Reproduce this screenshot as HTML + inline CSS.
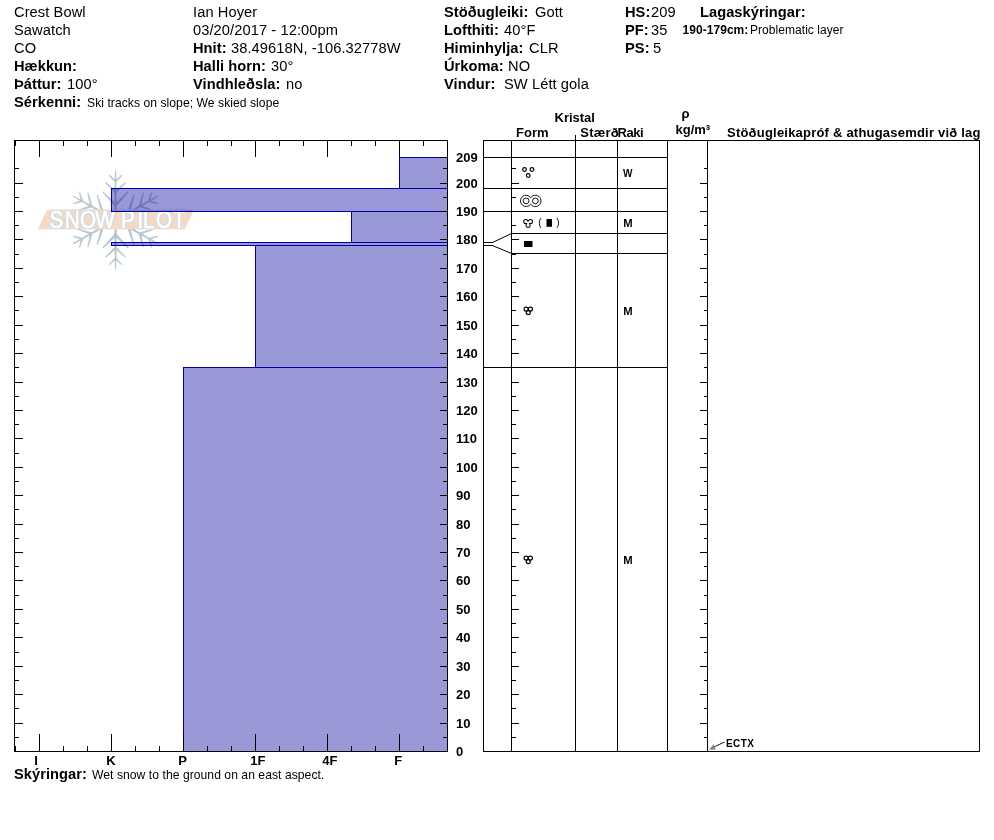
<!DOCTYPE html>
<html><head><meta charset="utf-8"><title>Snow Profile</title>
<style>
html,body{margin:0;padding:0;background:#fff;}
svg{display:block;font-family:"Liberation Sans",sans-serif;}
text{fill:#000;}
</style></head><body>
<svg width="994" height="840" viewBox="0 0 994 840">
<rect width="994" height="840" fill="#fff"/>
<text x="14" y="16.6" font-size="14.67" letter-spacing="0.08">Crest Bowl</text>
<text x="14" y="34.6" font-size="14.67" letter-spacing="0.08">Sawatch</text>
<text x="14" y="52.6" font-size="14.67" letter-spacing="0.08">CO</text>
<text x="14" y="70.6" font-size="14.67" font-weight="bold" letter-spacing="0.04">Hækkun:</text>
<text x="14" y="88.6" font-size="14.67" font-weight="bold" letter-spacing="0.04">Þáttur:</text>
<text x="67" y="88.6" font-size="14.67" letter-spacing="0.08">100°</text>
<text x="14" y="106.6" font-size="14.67" font-weight="bold" letter-spacing="0.04">Sérkenni:</text>
<text x="87" y="106.6" font-size="12.13" letter-spacing="0.05">Ski tracks on slope; We skied slope</text>
<text x="193" y="16.6" font-size="14.67" letter-spacing="0.08">Ian Hoyer</text>
<text x="193" y="34.6" font-size="14.67" letter-spacing="0.08">03/20/2017 - 12:00pm</text>
<text x="193" y="52.6" font-size="14.67" font-weight="bold" letter-spacing="0.04">Hnit:</text>
<text x="231" y="52.6" font-size="14.67" letter-spacing="0.08">38.49618N, -106.32778W</text>
<text x="193" y="70.6" font-size="14.67" font-weight="bold" letter-spacing="0.04">Halli horn:</text>
<text x="271" y="70.6" font-size="14.67" letter-spacing="0.08">30°</text>
<text x="193" y="88.6" font-size="14.67" font-weight="bold" letter-spacing="0.04">Vindhleðsla:</text>
<text x="286" y="88.6" font-size="14.67" letter-spacing="0.08">no</text>
<text x="444" y="16.6" font-size="14.67" font-weight="bold" letter-spacing="0.04">Stöðugleiki:</text>
<text x="535" y="16.6" font-size="14.67" letter-spacing="0.08">Gott</text>
<text x="444" y="34.6" font-size="14.67" font-weight="bold" letter-spacing="0.04">Lofthiti:</text>
<text x="504" y="34.6" font-size="14.67" letter-spacing="0.08">40°F</text>
<text x="444" y="52.6" font-size="14.67" font-weight="bold" letter-spacing="0.04">Himinhylja:</text>
<text x="529" y="52.6" font-size="14.67" letter-spacing="0.08">CLR</text>
<text x="444" y="70.6" font-size="14.67" font-weight="bold" letter-spacing="0.04">Úrkoma:</text>
<text x="508" y="70.6" font-size="14.67" letter-spacing="0.08">NO</text>
<text x="444" y="88.6" font-size="14.67" font-weight="bold" letter-spacing="0.04">Vindur:</text>
<text x="504" y="88.6" font-size="14.67" letter-spacing="0.08">SW Létt gola</text>
<text x="625" y="16.6" font-size="14.67" font-weight="bold" letter-spacing="0.04">HS:</text>
<text x="651" y="16.6" font-size="14.67" letter-spacing="0.08">209</text>
<text x="625" y="34.6" font-size="14.67" font-weight="bold" letter-spacing="0.04">PF:</text>
<text x="651" y="34.6" font-size="14.67" letter-spacing="0.08">35</text>
<text x="625" y="52.6" font-size="14.67" font-weight="bold" letter-spacing="0.04">PS:</text>
<text x="653" y="52.6" font-size="14.67" letter-spacing="0.08">5</text>
<text x="700" y="16.6" font-size="14.67" font-weight="bold" letter-spacing="0.04">Lagaskýringar:</text>
<text x="682.5" y="34.3" font-size="12" font-weight="bold" letter-spacing="0.05">190-179cm:</text>
<text x="750" y="34.3" font-size="12" letter-spacing="0.05">Problematic layer</text>
<text x="14" y="778.8" font-size="14.67" font-weight="bold" letter-spacing="0.04">Skýringar:</text>
<text x="92" y="778.8" font-size="12.13" letter-spacing="0.05">Wet snow to the ground on an east aspect.</text>
<g id="logo" opacity="0.45"><g transform="translate(115.55,219.9)" fill="#5f7f96" stroke="#5f7f96" stroke-width="0.3" stroke-linejoin="round"><g transform="rotate(0)"><polygon points="1.25,0.00 0.45,-48.70 -0.45,-48.70 -1.25,0.00"/><polygon points="0.60,-39.11 -6.12,-45.09 -6.68,-44.51 -0.60,-37.89"/><polygon points="0.60,-37.89 6.68,-44.51 6.12,-45.09 -0.60,-39.11"/><polygon points="0.72,-28.56 -9.72,-37.59 -10.28,-37.01 -0.72,-27.04"/><polygon points="0.72,-27.04 10.28,-37.01 9.72,-37.59 -0.72,-28.56"/><polygon points="0.93,-15.80 -12.56,-28.48 -13.14,-27.92 -0.93,-14.00"/><polygon points="0.93,-14.00 13.14,-27.92 12.56,-28.48 -0.93,-15.80"/></g><g transform="rotate(60.7)"><polygon points="1.25,0.00 0.45,-48.70 -0.45,-48.70 -1.25,0.00"/><polygon points="0.60,-39.11 -6.12,-45.09 -6.68,-44.51 -0.60,-37.89"/><polygon points="0.60,-37.89 6.68,-44.51 6.12,-45.09 -0.60,-39.11"/><polygon points="0.72,-28.56 -9.72,-37.59 -10.28,-37.01 -0.72,-27.04"/><polygon points="0.72,-27.04 10.28,-37.01 9.72,-37.59 -0.72,-28.56"/><polygon points="0.93,-15.80 -12.56,-28.48 -13.14,-27.92 -0.93,-14.00"/><polygon points="0.93,-14.00 13.14,-27.92 12.56,-28.48 -0.93,-15.80"/></g><g transform="rotate(119.3)"><polygon points="1.25,0.00 0.45,-48.70 -0.45,-48.70 -1.25,0.00"/><polygon points="0.60,-39.11 -6.12,-45.09 -6.68,-44.51 -0.60,-37.89"/><polygon points="0.60,-37.89 6.68,-44.51 6.12,-45.09 -0.60,-39.11"/><polygon points="0.72,-28.56 -9.72,-37.59 -10.28,-37.01 -0.72,-27.04"/><polygon points="0.72,-27.04 10.28,-37.01 9.72,-37.59 -0.72,-28.56"/><polygon points="0.93,-15.80 -12.56,-28.48 -13.14,-27.92 -0.93,-14.00"/><polygon points="0.93,-14.00 13.14,-27.92 12.56,-28.48 -0.93,-15.80"/></g><g transform="rotate(180)"><polygon points="1.25,0.00 0.45,-48.70 -0.45,-48.70 -1.25,0.00"/><polygon points="0.60,-39.11 -6.12,-45.09 -6.68,-44.51 -0.60,-37.89"/><polygon points="0.60,-37.89 6.68,-44.51 6.12,-45.09 -0.60,-39.11"/><polygon points="0.72,-28.56 -9.72,-37.59 -10.28,-37.01 -0.72,-27.04"/><polygon points="0.72,-27.04 10.28,-37.01 9.72,-37.59 -0.72,-28.56"/><polygon points="0.93,-15.80 -12.56,-28.48 -13.14,-27.92 -0.93,-14.00"/><polygon points="0.93,-14.00 13.14,-27.92 12.56,-28.48 -0.93,-15.80"/></g><g transform="rotate(240.7)"><polygon points="1.25,0.00 0.45,-48.70 -0.45,-48.70 -1.25,0.00"/><polygon points="0.60,-39.11 -6.12,-45.09 -6.68,-44.51 -0.60,-37.89"/><polygon points="0.60,-37.89 6.68,-44.51 6.12,-45.09 -0.60,-39.11"/><polygon points="0.72,-28.56 -9.72,-37.59 -10.28,-37.01 -0.72,-27.04"/><polygon points="0.72,-27.04 10.28,-37.01 9.72,-37.59 -0.72,-28.56"/><polygon points="0.93,-15.80 -12.56,-28.48 -13.14,-27.92 -0.93,-14.00"/><polygon points="0.93,-14.00 13.14,-27.92 12.56,-28.48 -0.93,-15.80"/></g><g transform="rotate(299.3)"><polygon points="1.25,0.00 0.45,-48.70 -0.45,-48.70 -1.25,0.00"/><polygon points="0.60,-39.11 -6.12,-45.09 -6.68,-44.51 -0.60,-37.89"/><polygon points="0.60,-37.89 6.68,-44.51 6.12,-45.09 -0.60,-39.11"/><polygon points="0.72,-28.56 -9.72,-37.59 -10.28,-37.01 -0.72,-27.04"/><polygon points="0.72,-27.04 10.28,-37.01 9.72,-37.59 -0.72,-28.56"/><polygon points="0.93,-15.80 -12.56,-28.48 -13.14,-27.92 -0.93,-14.00"/><polygon points="0.93,-14.00 13.14,-27.92 12.56,-28.48 -0.93,-15.80"/></g></g><polygon points="47.1,209.5 194.2,209.5 184.8,229.2 37.7,229.2" fill="#e2b186"/><filter id="ol" x="-5%" y="-20%" width="110%" height="140%"><feMorphology in="SourceAlpha" operator="dilate" radius="0.6" result="d"/><feGaussianBlur in="d" stdDeviation="0.35" result="b"/><feFlood flood-color="#9fb0bd"/><feComposite in2="b" operator="in" result="o"/><feMerge><feMergeNode in="o"/><feMergeNode in="SourceGraphic"/></feMerge></filter><text transform="scale(0.9,1)" x="54.9 72.0 88.9 105.8 128.9 134.4 152.4 158.9 173.3 192.0" y="227.6" font-size="23" filter="url(#ol)" stroke="#fff" stroke-width="0.45" style="fill:#fff">SNOW PILOT</text></g>
<g shape-rendering="crispEdges">
<rect x="399" y="157" width="48" height="31" fill="#00009a" fill-opacity="0.4"/>
<rect x="111" y="188" width="336" height="23" fill="#00009a" fill-opacity="0.4"/>
<rect x="351" y="211" width="96" height="31" fill="#00009a" fill-opacity="0.4"/>
<rect x="111" y="242" width="336" height="3" fill="#00009a" fill-opacity="0.4"/>
<rect x="255" y="245" width="192" height="122" fill="#00009a" fill-opacity="0.4"/>
<rect x="183" y="367" width="264" height="384" fill="#00009a" fill-opacity="0.4"/>
<rect x="399" y="157" width="49" height="1" fill="#0000a0"/>
<rect x="399" y="157" width="1" height="32" fill="#0000a0"/>
<rect x="399" y="188" width="49" height="1" fill="#0000a0"/>
<rect x="111" y="188" width="337" height="1" fill="#0000a0"/>
<rect x="111" y="188" width="1" height="24" fill="#0000a0"/>
<rect x="111" y="211" width="337" height="1" fill="#0000a0"/>
<rect x="351" y="211" width="97" height="1" fill="#0000a0"/>
<rect x="351" y="211" width="1" height="32" fill="#0000a0"/>
<rect x="351" y="242" width="97" height="1" fill="#0000a0"/>
<rect x="111" y="242" width="337" height="1" fill="#0000a0"/>
<rect x="111" y="242" width="1" height="4" fill="#0000a0"/>
<rect x="111" y="245" width="337" height="1" fill="#0000a0"/>
<rect x="255" y="245" width="193" height="1" fill="#0000a0"/>
<rect x="255" y="245" width="1" height="123" fill="#0000a0"/>
<rect x="255" y="367" width="193" height="1" fill="#0000a0"/>
<rect x="183" y="367" width="265" height="1" fill="#0000a0"/>
<rect x="183" y="367" width="1" height="385" fill="#0000a0"/>
<rect x="14" y="140" width="434" height="1" fill="#000"/>
<rect x="14" y="751" width="434" height="1" fill="#000"/>
<rect x="14" y="140" width="1" height="612" fill="#000"/>
<rect x="447" y="140" width="1" height="612" fill="#000"/>
<rect x="15" y="141" width="1" height="5" fill="#000"/>
<rect x="15" y="746" width="1" height="5" fill="#000"/>
<rect x="39" y="141" width="1" height="16" fill="#000"/>
<rect x="39" y="734" width="1" height="17" fill="#000"/>
<rect x="63" y="141" width="1" height="5" fill="#000"/>
<rect x="63" y="746" width="1" height="5" fill="#000"/>
<rect x="87" y="141" width="1" height="5" fill="#000"/>
<rect x="87" y="746" width="1" height="5" fill="#000"/>
<rect x="111" y="141" width="1" height="16" fill="#000"/>
<rect x="111" y="734" width="1" height="17" fill="#000"/>
<rect x="135" y="141" width="1" height="5" fill="#000"/>
<rect x="135" y="746" width="1" height="5" fill="#000"/>
<rect x="159" y="141" width="1" height="5" fill="#000"/>
<rect x="159" y="746" width="1" height="5" fill="#000"/>
<rect x="183" y="141" width="1" height="16" fill="#000"/>
<rect x="183" y="734" width="1" height="17" fill="#000"/>
<rect x="207" y="141" width="1" height="5" fill="#000"/>
<rect x="207" y="746" width="1" height="5" fill="#000"/>
<rect x="231" y="141" width="1" height="5" fill="#000"/>
<rect x="231" y="746" width="1" height="5" fill="#000"/>
<rect x="255" y="141" width="1" height="16" fill="#000"/>
<rect x="255" y="734" width="1" height="17" fill="#000"/>
<rect x="279" y="141" width="1" height="5" fill="#000"/>
<rect x="279" y="746" width="1" height="5" fill="#000"/>
<rect x="303" y="141" width="1" height="5" fill="#000"/>
<rect x="303" y="746" width="1" height="5" fill="#000"/>
<rect x="327" y="141" width="1" height="16" fill="#000"/>
<rect x="327" y="734" width="1" height="17" fill="#000"/>
<rect x="351" y="141" width="1" height="5" fill="#000"/>
<rect x="351" y="746" width="1" height="5" fill="#000"/>
<rect x="375" y="141" width="1" height="5" fill="#000"/>
<rect x="375" y="746" width="1" height="5" fill="#000"/>
<rect x="399" y="141" width="1" height="16" fill="#000"/>
<rect x="399" y="734" width="1" height="17" fill="#000"/>
<rect x="423" y="141" width="1" height="5" fill="#000"/>
<rect x="423" y="746" width="1" height="5" fill="#000"/>
<rect x="447" y="141" width="1" height="5" fill="#000"/>
<rect x="447" y="746" width="1" height="5" fill="#000"/>
<rect x="15" y="737" width="4" height="1" fill="#000"/>
<rect x="443" y="737" width="4" height="1" fill="#000"/>
<rect x="512" y="737" width="4" height="1" fill="#000"/>
<rect x="704" y="737" width="3" height="1" fill="#000"/>
<rect x="15" y="723" width="8" height="1" fill="#000"/>
<rect x="440" y="723" width="7" height="1" fill="#000"/>
<rect x="512" y="723" width="7" height="1" fill="#000"/>
<rect x="700" y="723" width="7" height="1" fill="#000"/>
<rect x="15" y="708" width="4" height="1" fill="#000"/>
<rect x="443" y="708" width="4" height="1" fill="#000"/>
<rect x="512" y="708" width="4" height="1" fill="#000"/>
<rect x="704" y="708" width="3" height="1" fill="#000"/>
<rect x="15" y="694" width="8" height="1" fill="#000"/>
<rect x="440" y="694" width="7" height="1" fill="#000"/>
<rect x="512" y="694" width="7" height="1" fill="#000"/>
<rect x="700" y="694" width="7" height="1" fill="#000"/>
<rect x="15" y="680" width="4" height="1" fill="#000"/>
<rect x="443" y="680" width="4" height="1" fill="#000"/>
<rect x="512" y="680" width="4" height="1" fill="#000"/>
<rect x="704" y="680" width="3" height="1" fill="#000"/>
<rect x="15" y="666" width="8" height="1" fill="#000"/>
<rect x="440" y="666" width="7" height="1" fill="#000"/>
<rect x="512" y="666" width="7" height="1" fill="#000"/>
<rect x="700" y="666" width="7" height="1" fill="#000"/>
<rect x="15" y="652" width="4" height="1" fill="#000"/>
<rect x="443" y="652" width="4" height="1" fill="#000"/>
<rect x="512" y="652" width="4" height="1" fill="#000"/>
<rect x="704" y="652" width="3" height="1" fill="#000"/>
<rect x="15" y="637" width="8" height="1" fill="#000"/>
<rect x="440" y="637" width="7" height="1" fill="#000"/>
<rect x="512" y="637" width="7" height="1" fill="#000"/>
<rect x="700" y="637" width="7" height="1" fill="#000"/>
<rect x="15" y="623" width="4" height="1" fill="#000"/>
<rect x="443" y="623" width="4" height="1" fill="#000"/>
<rect x="512" y="623" width="4" height="1" fill="#000"/>
<rect x="704" y="623" width="3" height="1" fill="#000"/>
<rect x="15" y="609" width="8" height="1" fill="#000"/>
<rect x="440" y="609" width="7" height="1" fill="#000"/>
<rect x="512" y="609" width="7" height="1" fill="#000"/>
<rect x="700" y="609" width="7" height="1" fill="#000"/>
<rect x="15" y="595" width="4" height="1" fill="#000"/>
<rect x="443" y="595" width="4" height="1" fill="#000"/>
<rect x="512" y="595" width="4" height="1" fill="#000"/>
<rect x="704" y="595" width="3" height="1" fill="#000"/>
<rect x="15" y="580" width="8" height="1" fill="#000"/>
<rect x="440" y="580" width="7" height="1" fill="#000"/>
<rect x="512" y="580" width="7" height="1" fill="#000"/>
<rect x="700" y="580" width="7" height="1" fill="#000"/>
<rect x="15" y="566" width="4" height="1" fill="#000"/>
<rect x="443" y="566" width="4" height="1" fill="#000"/>
<rect x="512" y="566" width="4" height="1" fill="#000"/>
<rect x="704" y="566" width="3" height="1" fill="#000"/>
<rect x="15" y="552" width="8" height="1" fill="#000"/>
<rect x="440" y="552" width="7" height="1" fill="#000"/>
<rect x="512" y="552" width="7" height="1" fill="#000"/>
<rect x="700" y="552" width="7" height="1" fill="#000"/>
<rect x="15" y="538" width="4" height="1" fill="#000"/>
<rect x="443" y="538" width="4" height="1" fill="#000"/>
<rect x="512" y="538" width="4" height="1" fill="#000"/>
<rect x="704" y="538" width="3" height="1" fill="#000"/>
<rect x="15" y="524" width="8" height="1" fill="#000"/>
<rect x="440" y="524" width="7" height="1" fill="#000"/>
<rect x="512" y="524" width="7" height="1" fill="#000"/>
<rect x="700" y="524" width="7" height="1" fill="#000"/>
<rect x="15" y="509" width="4" height="1" fill="#000"/>
<rect x="443" y="509" width="4" height="1" fill="#000"/>
<rect x="512" y="509" width="4" height="1" fill="#000"/>
<rect x="704" y="509" width="3" height="1" fill="#000"/>
<rect x="15" y="495" width="8" height="1" fill="#000"/>
<rect x="440" y="495" width="7" height="1" fill="#000"/>
<rect x="512" y="495" width="7" height="1" fill="#000"/>
<rect x="700" y="495" width="7" height="1" fill="#000"/>
<rect x="15" y="481" width="4" height="1" fill="#000"/>
<rect x="443" y="481" width="4" height="1" fill="#000"/>
<rect x="512" y="481" width="4" height="1" fill="#000"/>
<rect x="704" y="481" width="3" height="1" fill="#000"/>
<rect x="15" y="467" width="8" height="1" fill="#000"/>
<rect x="440" y="467" width="7" height="1" fill="#000"/>
<rect x="512" y="467" width="7" height="1" fill="#000"/>
<rect x="700" y="467" width="7" height="1" fill="#000"/>
<rect x="15" y="453" width="4" height="1" fill="#000"/>
<rect x="443" y="453" width="4" height="1" fill="#000"/>
<rect x="512" y="453" width="4" height="1" fill="#000"/>
<rect x="704" y="453" width="3" height="1" fill="#000"/>
<rect x="15" y="438" width="8" height="1" fill="#000"/>
<rect x="440" y="438" width="7" height="1" fill="#000"/>
<rect x="512" y="438" width="7" height="1" fill="#000"/>
<rect x="700" y="438" width="7" height="1" fill="#000"/>
<rect x="15" y="424" width="4" height="1" fill="#000"/>
<rect x="443" y="424" width="4" height="1" fill="#000"/>
<rect x="512" y="424" width="4" height="1" fill="#000"/>
<rect x="704" y="424" width="3" height="1" fill="#000"/>
<rect x="15" y="410" width="8" height="1" fill="#000"/>
<rect x="440" y="410" width="7" height="1" fill="#000"/>
<rect x="512" y="410" width="7" height="1" fill="#000"/>
<rect x="700" y="410" width="7" height="1" fill="#000"/>
<rect x="15" y="396" width="4" height="1" fill="#000"/>
<rect x="443" y="396" width="4" height="1" fill="#000"/>
<rect x="512" y="396" width="4" height="1" fill="#000"/>
<rect x="704" y="396" width="3" height="1" fill="#000"/>
<rect x="15" y="382" width="8" height="1" fill="#000"/>
<rect x="440" y="382" width="7" height="1" fill="#000"/>
<rect x="512" y="382" width="7" height="1" fill="#000"/>
<rect x="700" y="382" width="7" height="1" fill="#000"/>
<rect x="15" y="367" width="4" height="1" fill="#000"/>
<rect x="443" y="367" width="4" height="1" fill="#000"/>
<rect x="512" y="367" width="4" height="1" fill="#000"/>
<rect x="704" y="367" width="3" height="1" fill="#000"/>
<rect x="15" y="353" width="8" height="1" fill="#000"/>
<rect x="440" y="353" width="7" height="1" fill="#000"/>
<rect x="512" y="353" width="7" height="1" fill="#000"/>
<rect x="700" y="353" width="7" height="1" fill="#000"/>
<rect x="15" y="339" width="4" height="1" fill="#000"/>
<rect x="443" y="339" width="4" height="1" fill="#000"/>
<rect x="512" y="339" width="4" height="1" fill="#000"/>
<rect x="704" y="339" width="3" height="1" fill="#000"/>
<rect x="15" y="325" width="8" height="1" fill="#000"/>
<rect x="440" y="325" width="7" height="1" fill="#000"/>
<rect x="512" y="325" width="7" height="1" fill="#000"/>
<rect x="700" y="325" width="7" height="1" fill="#000"/>
<rect x="15" y="310" width="4" height="1" fill="#000"/>
<rect x="443" y="310" width="4" height="1" fill="#000"/>
<rect x="512" y="310" width="4" height="1" fill="#000"/>
<rect x="704" y="310" width="3" height="1" fill="#000"/>
<rect x="15" y="296" width="8" height="1" fill="#000"/>
<rect x="440" y="296" width="7" height="1" fill="#000"/>
<rect x="512" y="296" width="7" height="1" fill="#000"/>
<rect x="700" y="296" width="7" height="1" fill="#000"/>
<rect x="15" y="282" width="4" height="1" fill="#000"/>
<rect x="443" y="282" width="4" height="1" fill="#000"/>
<rect x="512" y="282" width="4" height="1" fill="#000"/>
<rect x="704" y="282" width="3" height="1" fill="#000"/>
<rect x="15" y="268" width="8" height="1" fill="#000"/>
<rect x="440" y="268" width="7" height="1" fill="#000"/>
<rect x="512" y="268" width="7" height="1" fill="#000"/>
<rect x="700" y="268" width="7" height="1" fill="#000"/>
<rect x="15" y="254" width="4" height="1" fill="#000"/>
<rect x="443" y="254" width="4" height="1" fill="#000"/>
<rect x="512" y="254" width="4" height="1" fill="#000"/>
<rect x="704" y="254" width="3" height="1" fill="#000"/>
<rect x="15" y="239" width="8" height="1" fill="#000"/>
<rect x="440" y="239" width="7" height="1" fill="#000"/>
<rect x="512" y="239" width="7" height="1" fill="#000"/>
<rect x="700" y="239" width="7" height="1" fill="#000"/>
<rect x="15" y="225" width="4" height="1" fill="#000"/>
<rect x="443" y="225" width="4" height="1" fill="#000"/>
<rect x="512" y="225" width="4" height="1" fill="#000"/>
<rect x="704" y="225" width="3" height="1" fill="#000"/>
<rect x="15" y="211" width="8" height="1" fill="#000"/>
<rect x="440" y="211" width="7" height="1" fill="#000"/>
<rect x="512" y="211" width="7" height="1" fill="#000"/>
<rect x="700" y="211" width="7" height="1" fill="#000"/>
<rect x="15" y="197" width="4" height="1" fill="#000"/>
<rect x="443" y="197" width="4" height="1" fill="#000"/>
<rect x="512" y="197" width="4" height="1" fill="#000"/>
<rect x="704" y="197" width="3" height="1" fill="#000"/>
<rect x="15" y="183" width="8" height="1" fill="#000"/>
<rect x="440" y="183" width="7" height="1" fill="#000"/>
<rect x="512" y="183" width="7" height="1" fill="#000"/>
<rect x="700" y="183" width="7" height="1" fill="#000"/>
<rect x="15" y="168" width="4" height="1" fill="#000"/>
<rect x="443" y="168" width="4" height="1" fill="#000"/>
<rect x="512" y="168" width="4" height="1" fill="#000"/>
<rect x="704" y="168" width="3" height="1" fill="#000"/>
<rect x="440" y="157" width="7" height="1" fill="#000"/>
<rect x="483" y="140" width="497" height="1" fill="#000"/>
<rect x="483" y="751" width="497" height="1" fill="#000"/>
<rect x="483" y="140" width="1" height="612" fill="#000"/>
<rect x="511" y="140" width="1" height="612" fill="#000"/>
<rect x="617" y="140" width="1" height="612" fill="#000"/>
<rect x="667" y="140" width="1" height="612" fill="#000"/>
<rect x="707" y="140" width="1" height="612" fill="#000"/>
<rect x="979" y="140" width="1" height="612" fill="#000"/>
<rect x="575" y="135" width="1" height="617" fill="#000"/>
<rect x="483" y="157" width="185" height="1" fill="#000"/>
<rect x="483" y="188" width="185" height="1" fill="#000"/>
<rect x="483" y="211" width="185" height="1" fill="#000"/>
<rect x="483" y="367" width="185" height="1" fill="#000"/>
<rect x="511" y="233" width="157" height="1" fill="#000"/>
<rect x="511" y="253" width="157" height="1" fill="#000"/>
<rect x="483" y="242" width="10" height="1" fill="#000"/>
<rect x="483" y="245" width="10" height="1" fill="#000"/>
</g>
<path d="M492.5 242.5 L511.5 233.5 M492.5 245.5 L511.5 253.5" stroke="#000" stroke-width="1" fill="none"/>
<text x="456" y="161.7" font-size="13" font-weight="bold" text-anchor="start">209</text>
<text x="456" y="187.7" font-size="13" font-weight="bold" text-anchor="start">200</text>
<text x="456" y="215.7" font-size="13" font-weight="bold" text-anchor="start">190</text>
<text x="456" y="243.7" font-size="13" font-weight="bold" text-anchor="start">180</text>
<text x="456" y="272.7" font-size="13" font-weight="bold" text-anchor="start">170</text>
<text x="456" y="300.7" font-size="13" font-weight="bold" text-anchor="start">160</text>
<text x="456" y="329.7" font-size="13" font-weight="bold" text-anchor="start">150</text>
<text x="456" y="357.7" font-size="13" font-weight="bold" text-anchor="start">140</text>
<text x="456" y="386.7" font-size="13" font-weight="bold" text-anchor="start">130</text>
<text x="456" y="414.7" font-size="13" font-weight="bold" text-anchor="start">120</text>
<text x="456" y="442.7" font-size="13" font-weight="bold" text-anchor="start">110</text>
<text x="456" y="471.7" font-size="13" font-weight="bold" text-anchor="start">100</text>
<text x="456" y="499.7" font-size="13" font-weight="bold" text-anchor="start">90</text>
<text x="456" y="528.7" font-size="13" font-weight="bold" text-anchor="start">80</text>
<text x="456" y="556.7" font-size="13" font-weight="bold" text-anchor="start">70</text>
<text x="456" y="584.7" font-size="13" font-weight="bold" text-anchor="start">60</text>
<text x="456" y="613.7" font-size="13" font-weight="bold" text-anchor="start">50</text>
<text x="456" y="641.7" font-size="13" font-weight="bold" text-anchor="start">40</text>
<text x="456" y="670.7" font-size="13" font-weight="bold" text-anchor="start">30</text>
<text x="456" y="698.7" font-size="13" font-weight="bold" text-anchor="start">20</text>
<text x="456" y="727.7" font-size="13" font-weight="bold" text-anchor="start">10</text>
<text x="456" y="755.7" font-size="13" font-weight="bold" text-anchor="start">0</text>
<text x="34.2" y="764.7" font-size="13" font-weight="bold" text-anchor="start">I</text>
<text x="106.2" y="764.7" font-size="13" font-weight="bold" text-anchor="start">K</text>
<text x="178.2" y="764.7" font-size="13" font-weight="bold" text-anchor="start">P</text>
<text x="250.2" y="764.7" font-size="13" font-weight="bold" text-anchor="start">1F</text>
<text x="322.2" y="764.7" font-size="13" font-weight="bold" text-anchor="start">4F</text>
<text x="394.2" y="764.7" font-size="13" font-weight="bold" text-anchor="start">F</text>
<text x="554.5" y="122" font-size="13" font-weight="bold" text-anchor="start">Kristal</text>
<text x="516" y="137" font-size="13" font-weight="bold" text-anchor="start">Form</text>
<text x="580.3" y="137" font-size="13" font-weight="bold" text-anchor="start" textLength="38.4">Stærð</text>
<text x="617.5" y="137" font-size="13" font-weight="bold" text-anchor="start" textLength="26.2">Raki</text>
<text x="681.5" y="118" font-size="13" font-weight="bold" text-anchor="start">ρ</text>
<text x="675.5" y="134.3" font-size="13" font-weight="bold" text-anchor="start">kg/m³</text>
<text x="727" y="137" font-size="13" font-weight="bold" text-anchor="start" textLength="253.5">Stöðugleikapróf &amp; athugasemdir við lag</text>
<text x="623" y="176.7" font-size="10" font-weight="bold" text-anchor="start">W</text>
<text x="623.2" y="227" font-size="10.6" font-weight="bold" text-anchor="start" textLength="9.4" lengthAdjust="spacingAndGlyphs">M</text>
<text x="623.2" y="315" font-size="10.6" font-weight="bold" text-anchor="start" textLength="9.4" lengthAdjust="spacingAndGlyphs">M</text>
<text x="623.2" y="564" font-size="10.6" font-weight="bold" text-anchor="start" textLength="9.4" lengthAdjust="spacingAndGlyphs">M</text>
<text x="726" y="746.6" font-size="10" font-weight="bold" text-anchor="start" textLength="28">ECTX</text>
<circle cx="524.5" cy="169.5" r="1.85" fill="none" stroke="#000" stroke-width="1.2"/>
<circle cx="531.9" cy="169.5" r="1.85" fill="none" stroke="#000" stroke-width="1.2"/>
<circle cx="528.2" cy="175.5" r="1.85" fill="none" stroke="#000" stroke-width="1.2"/>
<path d="M530.75 197.69 A5.65 5.65 0 1 0 530.75 204.11 A5.65 5.65 0 1 0 530.75 197.69 Z" fill="none" stroke="#000" stroke-width="0.9"/>
<circle cx="526.1" cy="200.9" r="2.9" fill="none" stroke="#000" stroke-width="0.9"/>
<circle cx="535.4" cy="200.9" r="2.9" fill="none" stroke="#000" stroke-width="0.9"/>
<circle cx="525.75" cy="221.45000000000002" r="2.55" fill="#000"/>
<circle cx="530.45" cy="221.45000000000002" r="2.55" fill="#000"/>
<circle cx="528.1" cy="225.20000000000002" r="2.55" fill="#000"/>
<circle cx="525.75" cy="221.45000000000002" r="1.5499999999999998" fill="#fff"/>
<circle cx="530.45" cy="221.45000000000002" r="1.5499999999999998" fill="#fff"/>
<circle cx="528.1" cy="225.20000000000002" r="1.5499999999999998" fill="#fff"/>
<circle cx="528.1" cy="222.70000000000002" r="1.3" fill="#fff"/>
<text x="538.3" y="226.2" font-size="10" text-anchor="start">(</text>
<rect x="546.5" y="219" width="5.5" height="7.8" fill="#000"/>
<text x="556.3" y="226.2" font-size="10" text-anchor="start">)</text>
<rect x="524" y="241" width="8.5" height="6" fill="#000"/>
<circle cx="526.1" cy="309.1" r="2.05" fill="none" stroke="#000" stroke-width="1.15"/>
<circle cx="530.4" cy="309.1" r="2.05" fill="none" stroke="#000" stroke-width="1.15"/>
<circle cx="528.25" cy="312.6" r="2.05" fill="none" stroke="#000" stroke-width="1.15"/>
<circle cx="526.1" cy="558.1" r="2.05" fill="none" stroke="#000" stroke-width="1.15"/>
<circle cx="530.4" cy="558.1" r="2.05" fill="none" stroke="#000" stroke-width="1.15"/>
<circle cx="528.25" cy="561.6" r="2.05" fill="none" stroke="#000" stroke-width="1.15"/>
<line x1="724.6" y1="742" x2="714.3" y2="746.8" stroke="#000" stroke-width="0.9"/>
<polygon points="709.1,749.7 713.7,744.3 715.7,749.5" fill="#808080"/>
</svg>
</body></html>
